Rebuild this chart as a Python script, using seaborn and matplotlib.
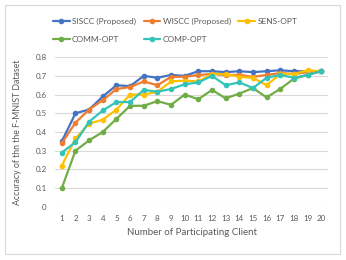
import numpy as np
import pandas as pd
import seaborn as sns
import matplotlib.pyplot as plt
from matplotlib.patches import Rectangle

### Data
clients = list(range(1, 21))
siscc = [0.35, 0.50, 0.52, 0.59, 0.65, 0.645, 0.70, 0.69, 0.705, 0.70,
         0.725, 0.725, 0.72, 0.725, 0.72, 0.725, 0.73, 0.725, 0.725, 0.725]
wiscc = [0.34, 0.45, 0.52, 0.57, 0.63, 0.64, 0.67, 0.65, 0.695, 0.695,
         0.705, 0.71, 0.705, 0.705, 0.695, 0.705, 0.715, 0.71, 0.72, 0.725]
sens_opt = [0.22, 0.365, 0.445, 0.465, 0.52, 0.60, 0.60, 0.615, 0.67, 0.675,
            0.67, 0.71, 0.71, 0.695, 0.69, 0.65, 0.71, 0.71, 0.73, 0.725]
comm_opt = [0.10, 0.30, 0.355, 0.40, 0.47, 0.54, 0.54, 0.565, 0.545, 0.60,
            0.575, 0.625, 0.58, 0.605, 0.635, 0.585, 0.63, 0.685, 0.705, 0.725]
comp_opt = [0.29, 0.345, 0.455, 0.515, 0.56, 0.56, 0.625, 0.615, 0.63, 0.655,
            0.665, 0.70, 0.65, 0.665, 0.635, 0.69, 0.705, 0.69, 0.705, 0.725]
series_names = ['SISCC (Proposed)', 'WISCC (Proposed)', 'SENS-OPT', 'COMM-OPT', 'COMP-OPT']
colors = ['#4472C4', '#ED7D31', '#FFC000', '#70AD47', '#33C3B8']

## Long-form table for seaborn
df = pd.DataFrame({
    'client': clients * 5,
    'acc': siscc + wiscc + sens_opt + comm_opt + comp_opt,
    'method': np.repeat(series_names, len(clients)),
})

sns.set_style('white')
plt.rcParams['font.family'] = ['Lato', 'DejaVu Sans']
txt = '#595959'

fig = plt.figure(figsize=(3.46, 2.6), dpi=100)
ax = fig.add_axes([0.159, 0.205, 0.789, 0.575])

sns.lineplot(data=df, x='client', y='acc', hue='method', hue_order=series_names,
             palette=colors, marker='o', markersize=4, markeredgewidth=0,
             linewidth=1.6, ax=ax)

## Axes styling (Excel look)
ax.set_xlim(0.5, 20.5)
ax.set_ylim(0, 0.8)
ax.set_xticks(clients)
ax.set_yticks(np.arange(0, 0.81, 0.1))
ax.set_yticklabels(['0'] + [f'{v:.1f}' for v in np.arange(0.1, 0.81, 0.1)])
ax.yaxis.grid(True, color='#D9D9D9', linewidth=0.8)
ax.set_axisbelow(True)
for s in ax.spines.values():
    s.set_visible(False)
ax.tick_params(axis='both', length=0, labelsize=5.8, colors=txt, pad=6)
ax.set_xlabel('Number of Participating Client', fontsize=7, color=txt, labelpad=4)
ax.set_ylabel('Accuracy of thn the F-MNIST Dataset', fontsize=6.3, color=txt, labelpad=10)

## Legend on top, filled row-wise
h, l = ax.get_legend_handles_labels()
order = [0, 3, 1, 4, 2]
ax.legend([h[i] for i in order], [l[i] for i in order], ncol=3,
          loc='lower left', bbox_to_anchor=(-0.02, 1.07), frameon=False,
          fontsize=6, labelcolor=txt, handlelength=2.0, handletextpad=0.3,
          columnspacing=0.9, labelspacing=1.4, borderaxespad=0)

## Chart border
fig.patches.append(Rectangle((0.015, 0.025), 0.968, 0.955, transform=fig.transFigure,
                             fill=False, edgecolor='#D9D9D9', linewidth=0.8))

fig.savefig('out.png', dpi=100)
plt.close()
